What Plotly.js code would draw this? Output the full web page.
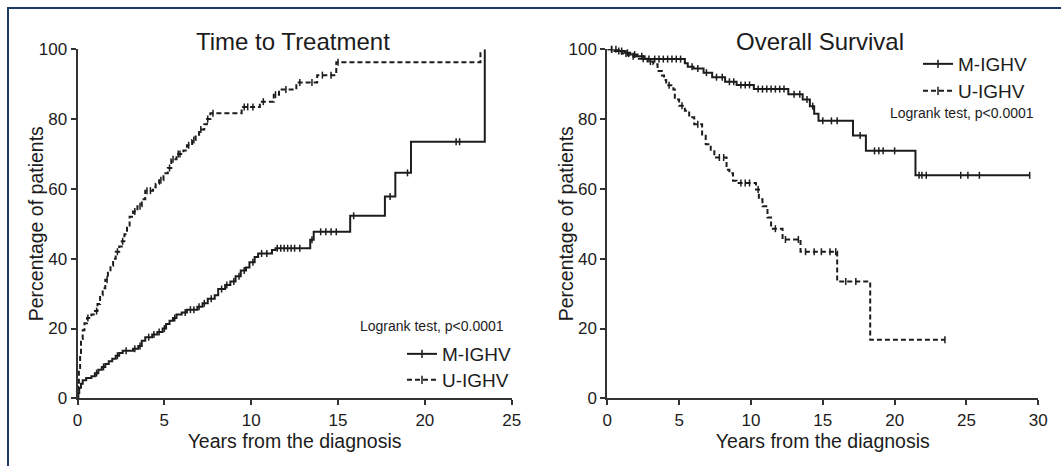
<!DOCTYPE html>
<html>
<head>
<meta charset="utf-8">
<script src="https://cdn.plot.ly/plotly-3.0.1.min.js"></script>
<style>
  html, body { margin: 0; padding: 0; background: #ffffff; }
  #wrap { position: relative; width: 1061px; height: 466px; overflow: hidden; }
  #chart { position: absolute; left: 0; top: 0; width: 1061px; height: 466px; }
  #frame { position: absolute; left: 7px; top: 7px; right: -10px; bottom: -10px;
           border-left: 2px solid #1f3a63; border-top: 2px solid #1f3a63; pointer-events: none; }
</style>
</head>
<body>
<div id="wrap"><div id="chart"></div><div id="frame"></div></div>
<script>
// ---------------- DATA ----------------
const seriesNames = ["M-IGHV", "U-IGHV"];
const panelTitles = ["Time to Treatment", "Overall Survival"];
const xAxisTitle = "Years from the diagnosis";
const yAxisTitle = "Percentage of patients";
const logrankText = "Logrank test, p<0.0001";
const tttXTicks = [0, 5, 10, 15, 20, 25];
const osXTicks = [0, 5, 10, 15, 20, 25, 30];
const yTicks = [0, 20, 40, 60, 80, 100];

// Time to treatment, M-IGHV (step times in years, cumulative %)
const tttM_time = [0,0.05,0.1,0.2,0.3,0.5,0.8,1.0,1.2,1.4,1.6,1.8,2.0,2.2,2.4,2.6,3.2,3.5,3.7,3.9,4.3,4.6,4.9,5.1,5.3,5.5,5.7,6.0,6.3,6.9,7.2,7.5,7.9,8.1,8.5,8.8,9.1,9.4,9.7,9.9,10.2,10.4,11.2,11.4,13.4,13.6,15.7,17.7,18.3,19.2,23.45];
const tttM_pct  = [0,1.5,3,4.2,5.2,5.8,6.3,7.2,8.2,9,9.8,10.6,11.3,12.2,13,13.6,14.2,15,16.5,17.5,18.3,19,20,21.3,22.2,23,24,24.6,25.4,26.2,27.2,28.5,29.5,31.3,32.5,33.5,35,36.6,37.5,39,40.5,41.5,42.5,43,45.4,47.7,52.3,57.8,64.6,73.5,100];
const tttM_cens = [1.1,1.5,2.3,2.8,3.3,3.6,4.1,4.4,4.7,5.0,5.6,6.2,6.5,6.7,7.0,7.3,7.7,8.3,8.6,9.0,9.3,9.6,10.1,10.6,10.9,11.5,11.7,11.9,12.1,12.3,12.5,12.8,13.5,14.0,14.3,14.6,14.9,15.9,18.0,19.0,21.8,22.0];

// Time to treatment, U-IGHV
const tttU_time = [0,0.03,0.08,0.15,0.2,0.3,0.4,0.55,0.8,1.0,1.15,1.3,1.45,1.6,1.75,1.9,2.05,2.2,2.4,2.55,2.7,2.85,3.0,3.2,3.45,3.7,3.9,4.35,4.5,4.7,4.95,5.2,5.4,5.7,6.1,6.3,6.6,6.8,7.0,7.3,7.45,7.65,9.45,10.5,11.3,11.6,12.6,13.8,14.9,23.2];
const tttU_pct  = [0,4,8,13,17,19.5,21.5,23,24,25,27,29.5,31.5,34,36,38,40,42,43.5,45,47,49.5,52,53.5,55,57,59.5,60.5,61.5,62.5,64.5,66,68.5,70,71,72.5,74,75.5,77,78.5,80,81.7,83.5,85,87,88.5,90.5,92.6,96.3,100];
const tttU_cens = [0.6,1.1,1.7,2.3,2.6,3.3,3.6,4.0,4.2,4.8,5.3,5.5,5.8,5.9,6.4,6.7,7.1,7.5,7.8,9.6,9.8,10.1,10.7,11.4,12.0,12.8,13.5,14.1,14.6,15.0];

// Overall survival, M-IGHV (survival %)
const osM_time = [0,0.8,1.2,1.6,2.1,2.6,5.4,5.6,6.0,6.7,7.3,8.2,9.0,10.2,12.6,13.6,14.1,14.4,14.7,17.1,18.0,21.45,29.4];
const osM_pct  = [100,99.5,99,98.5,98,97.2,96,95,94.5,93.3,92,90.7,89.8,88.6,87.1,85.6,83.7,81.5,79.5,75.3,70.9,63.9,63.9];
const osM_cens = [0.3,0.6,1.0,1.4,1.9,2.4,2.9,3.3,3.6,3.9,4.2,4.5,4.8,5.1,5.9,6.3,6.9,7.6,8.0,8.5,8.8,9.3,9.6,9.9,10.5,10.8,11.1,11.4,11.7,12.0,12.3,13.0,13.4,13.9,14.3,15.0,15.6,16.0,17.6,18.6,18.9,19.2,20.0,21.7,21.9,22.2,24.6,25.1,25.9,29.4];

// Overall survival, U-IGHV
const osU_time = [0,0.5,1.0,1.5,2.2,2.8,3.2,3.5,3.8,3.95,4.1,4.6,4.7,5.0,5.4,5.7,6.05,6.6,6.85,7.2,7.45,8.3,8.5,8.75,9.0,10.35,10.55,10.8,11.15,11.4,12.2,13.45,16.0,18.3,23.5];
const osU_pct  = [100,99.5,98.8,98,97.3,96.5,95.7,93.8,92.5,91.2,89.7,88.5,85.6,83.8,82.4,80.5,78.5,75.2,72.8,70.8,69,65.5,64.5,62.3,61.7,59.8,57,55,51.8,48.6,45.5,42,33.5,16.8,16.8];
const osU_cens = [0.3,0.8,1.3,1.8,2.5,3.0,4.3,5.2,6.3,7.8,8.1,9.3,9.6,9.9,10.5,11.7,12.4,13.3,13.8,14.4,14.9,15.5,15.9,16.6,17.3,23.5];

// ---------------- BUILD ----------------
const INK = "#1c1c1c";
const FONT = "Liberation Sans, Arial, Helvetica, sans-serif";

function stepAt(times, vals, t) {
  let v = vals[0];
  for (let i = 0; i < times.length; i++) { if (times[i] <= t) v = vals[i]; else break; }
  return v;
}

function curve(times, vals, cens, dash, xa, ya) {
  const line = {
    x: times, y: vals, xaxis: xa, yaxis: ya, type: "scatter", mode: "lines",
    line: { shape: "hv", color: INK, width: 2, dash: dash },
    showlegend: false, hoverinfo: "skip", cliponaxis: false
  };
  const marks = {
    x: cens, y: cens.map(t => stepAt(times, vals, t)), xaxis: xa, yaxis: ya,
    type: "scatter", mode: "markers",
    marker: { symbol: "line-ns", size: 5, color: INK, line: { color: INK, width: 1.5 } },
    showlegend: false, hoverinfo: "skip", cliponaxis: false
  };
  return [line, marks];
}

function legendItem(name, dash, legendId, xa, ya) {
  return {
    x: [null], y: [null], type: "scatter", mode: "lines+markers", name: name,
    legend: legendId, xaxis: xa, yaxis: ya,
    line: { color: INK, width: 2, dash: dash },
    marker: { symbol: "line-ns", size: 6, color: INK, line: { color: INK, width: 1.5 } },
    hoverinfo: "skip"
  };
}

const DASH = "5px,3px";
const traces = [].concat(
  curve(tttM_time, tttM_pct, tttM_cens, "solid", "x", "y"),
  curve(tttU_time, tttU_pct, tttU_cens, DASH, "x", "y"),
  curve(osM_time, osM_pct, osM_cens, "solid", "x2", "y2"),
  curve(osU_time, osU_pct, osU_cens, DASH, "x2", "y2"),
  [legendItem(seriesNames[0], "solid", "legend", "x", "y"),
   legendItem(seriesNames[1], DASH, "legend2", "x", "y"),
   legendItem(seriesNames[0], "solid", "legend3", "x2", "y2"),
   legendItem(seriesNames[1], DASH, "legend4", "x2", "y2")]
);

const W = 1061, H = 466;
const px = v => v / W;
const py = v => 1 - v / H;

function xAxis(domain, range, ticks) {
  return {
    domain: domain, range: range, tickvals: ticks, ticktext: ticks.map(String),
    ticks: "outside", ticklen: 5, tickwidth: 2, tickcolor: "#333",
    showline: true, linecolor: "#333", linewidth: 2, showgrid: false, zeroline: false,
    tickfont: { family: FONT, size: 17, color: INK },
    title: { text: xAxisTitle, font: { family: FONT, size: 19.5, color: INK }, standoff: 6 },
    fixedrange: true
  };
}
function yAxis(domain, anchor) {
  return {
    domain: domain, range: [0, 100], tickvals: yTicks, ticktext: yTicks.map(String), anchor: anchor,
    ticks: "outside", ticklen: 5, tickwidth: 2, tickcolor: "#333",
    showline: true, linecolor: "#333", linewidth: 2, showgrid: false, zeroline: false,
    tickfont: { family: FONT, size: 17, color: INK },
    fixedrange: true
  };
}
function legendBox(xLeft, yTop) {
  return {
    x: px(xLeft), y: py(yTop), xanchor: "left", yanchor: "top",
    bgcolor: "rgba(0,0,0,0)", font: { family: FONT, size: 19, color: INK },
    itemwidth: 30, itemclick: false, itemdoubleclick: false
  };
}

const yDom = [1 - 398.3 / H, 1 - 49.3 / H];
const yMid = py(223.8);
const layout = {
  width: W, height: H,
  margin: { l: 0, r: 0, t: 0, b: 0 },
  paper_bgcolor: "rgba(0,0,0,0)", plot_bgcolor: "rgba(0,0,0,0)",
  font: { family: FONT, color: INK },
  xaxis: Object.assign(xAxis([px(77.5), px(511.7)], [0, 25], tttXTicks), { anchor: "y" }),
  yaxis: yAxis(yDom, "x"),
  xaxis2: Object.assign(xAxis([px(607.3), px(1038.3)], [0, 30], osXTicks), { anchor: "y2" }),
  yaxis2: yAxis(yDom, "x2"),
  legend: legendBox(402, 335),
  legend2: legendBox(402, 361),
  legend3: legendBox(918, 45),
  legend4: legendBox(918, 72),
  annotations: [
    { text: panelTitles[0], xref: "paper", yref: "paper", x: px(293), y: py(41), xanchor: "center", yanchor: "middle",
      showarrow: false, font: { family: FONT, size: 24, color: INK } },
    { text: panelTitles[1], xref: "paper", yref: "paper", x: px(820), y: py(41), xanchor: "center", yanchor: "middle",
      showarrow: false, font: { family: FONT, size: 24, color: INK } },
    { text: yAxisTitle, xref: "paper", yref: "paper", x: px(35.5), y: yMid, xanchor: "center", yanchor: "middle",
      textangle: -90, showarrow: false, font: { family: FONT, size: 19.5, color: INK } },
    { text: yAxisTitle, xref: "paper", yref: "paper", x: px(565.5), y: yMid, xanchor: "center", yanchor: "middle",
      textangle: -90, showarrow: false, font: { family: FONT, size: 19.5, color: INK } },
    { text: logrankText, xref: "paper", yref: "paper", x: px(506), y: py(326), xanchor: "right", yanchor: "middle",
      showarrow: false, font: { family: FONT, size: 14, color: INK } },
    { text: logrankText, xref: "paper", yref: "paper", x: px(1036), y: py(113), xanchor: "right", yanchor: "middle",
      showarrow: false, font: { family: FONT, size: 14, color: INK } }
  ],
  showlegend: true
};

Plotly.newPlot("chart", traces, layout, { staticPlot: true, displayModeBar: false });
</script>
</body>
</html>
